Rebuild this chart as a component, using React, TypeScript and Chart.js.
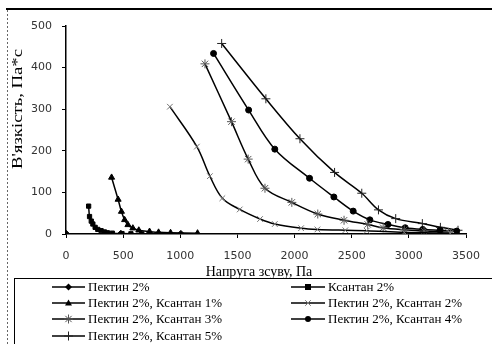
import React, { useEffect, useRef } from "react";
import { Chart, registerables } from "chart.js";

Chart.register(...registerables);

// Shear stress (Pa) / viscosity (Pa*s) per series
const pectinX = [0, 480, 1005];
const pectinY = [0.8, 0.5, 0.3];

const xanthanX = [198, 206, 221, 235, 255, 278, 307, 336, 362, 405, 490, 568, 663];
const xanthanY = [67, 42, 31, 24, 16, 11, 8, 5, 3, 2, 1, 0.5, 0.3];

const px1X = [399, 456, 485, 513, 542, 585, 637, 731, 810, 915, 1151];
const px1Y = [136, 83, 54, 34, 22, 14, 9, 6, 4, 3, 2];

const px2X = [909, 1145, 1259, 1368, 1520, 1698, 1827, 2057, 2200, 2444, 2631, 2960, 3362];
const px2Y = [306, 210, 139, 86, 59, 36, 24, 14, 11, 9, 8, 4, 2];

const px3X = [1216, 1448, 1594, 1741, 1976, 2203, 2433, 2640, 2775, 2960, 3133, 3348];
const px3Y = [409, 270, 180, 110, 76, 48, 33, 23, 15, 10, 7, 4];

const px4X = [1291, 1598, 1827, 2131, 2344, 2513, 2659, 2817, 2968, 3121, 3273, 3419];
const px4Y = [434, 298, 204, 134, 89, 55, 34, 23, 15, 11, 9, 7];

const px5X = [1362, 1749, 2047, 2350, 2588, 2734, 2885, 3118, 3276, 3430];
const px5Y = [458, 325, 229, 148, 98, 58, 37, 25, 16, 9];

const seriesLabels = [
  "Пектин 2%",
  "Ксантан 2%",
  "Пектин 2%, Ксантан 1%",
  "Пектин 2%, Ксантан 2%",
  "Пектин 2%, Ксантан 3%",
  "Пектин 2%, Ксантан 4%",
  "Пектин 2%, Ксантан 5%",
];

const xTitle = "Напруга зсуву, Па";
const yTitle = "В'язкість, Па*с";

const pts = (xs: number[], ys: number[]) => xs.map((x, i) => ({ x, y: ys[i] }));

const styles = [
  { pointStyle: "rectRot", r: 3.5, color: "#000" },
  { pointStyle: "rect", r: 3, color: "#000" },
  { pointStyle: "triangle", r: 3.5, color: "#000" },
  { pointStyle: "crossRot", r: 4, color: "#777" },
  { pointStyle: "star", r: 4.5, color: "#555" },
  { pointStyle: "circle", r: 3, color: "#000" },
  { pointStyle: "cross", r: 4.5, color: "#222" },
];

function drawMarker(ctx: CanvasRenderingContext2D, style: string, x: number, y: number, r: number, color: string) {
  ctx.save();
  ctx.fillStyle = color;
  ctx.strokeStyle = color;
  ctx.lineWidth = 1;
  ctx.beginPath();
  if (style === "rectRot") {
    ctx.moveTo(x, y - r); ctx.lineTo(x + r, y); ctx.lineTo(x, y + r); ctx.lineTo(x - r, y); ctx.closePath(); ctx.fill();
  } else if (style === "rect") {
    ctx.rect(x - r, y - r, 2 * r, 2 * r); ctx.fill();
  } else if (style === "triangle") {
    ctx.moveTo(x, y - r); ctx.lineTo(x + r, y + r * 0.7); ctx.lineTo(x - r, y + r * 0.7); ctx.closePath(); ctx.fill();
  } else if (style === "circle") {
    ctx.arc(x, y, r, 0, Math.PI * 2); ctx.fill();
  } else {
    const d = r * 0.7;
    if (style === "crossRot" || style === "star") {
      ctx.moveTo(x - d, y - d); ctx.lineTo(x + d, y + d); ctx.moveTo(x + d, y - d); ctx.lineTo(x - d, y + d);
    }
    if (style === "cross" || style === "star") {
      ctx.moveTo(x, y - r); ctx.lineTo(x, y + r); ctx.moveTo(x - r, y); ctx.lineTo(x + r, y);
    }
    ctx.stroke();
  }
  ctx.restore();
}

const decorPlugin = {
  id: "decor",
  afterDraw(chart: any) {
    const ctx: CanvasRenderingContext2D = chart.ctx;
    ctx.save();
    // frame
    ctx.strokeStyle = "#000";
    ctx.lineWidth = 2;
    ctx.beginPath();
    ctx.moveTo(6, 9); ctx.lineTo(492, 9); ctx.stroke();
    ctx.strokeStyle = "#666";
    ctx.lineWidth = 1;
    ctx.setLineDash([2, 2]);
    ctx.beginPath();
    ctx.moveTo(7.5, 10); ctx.lineTo(7.5, 344); ctx.stroke();
    ctx.setLineDash([]);

    // axis titles
    ctx.fillStyle = "#000";
    ctx.font = "14px 'Liberation Serif', 'Times New Roman', serif";
    ctx.textAlign = "center";
    ctx.textBaseline = "middle";
    ctx.fillText(xTitle, 259, 272);
    ctx.save();
    ctx.translate(18, 109);
    ctx.rotate(-Math.PI / 2);
    ctx.font = "15px 'Liberation Serif', 'Times New Roman', serif";
    const w = ctx.measureText(yTitle).width;
    ctx.scale(120 / w, 1);
    ctx.fillText(yTitle, 0, 0);
    ctx.restore();

    // legend box
    ctx.strokeStyle = "#000";
    ctx.lineWidth = 1;
    ctx.strokeRect(14.5, 278.5, 500, 80);
    const rows = [287, 303, 319, 336];
    const cols = [{ l: 52, r: 85, t: 88 }, { l: 291, r: 325, t: 328 }];
    ctx.font = "13px 'Liberation Serif', 'Times New Roman', serif";
    ctx.textAlign = "left";
    seriesLabels.forEach((lab, i) => {
      const row = rows[Math.floor(i / 2)];
      const c = cols[i % 2];
      ctx.strokeStyle = "#000";
      ctx.lineWidth = 1.5;
      ctx.beginPath();
      ctx.moveTo(c.l, row); ctx.lineTo(c.r, row); ctx.stroke();
      const s = styles[i];
      drawMarker(ctx, s.pointStyle, (c.l + c.r) / 2, row, s.r, s.color);
      ctx.fillStyle = "#000";
      ctx.fillText(lab, c.t, row + 1);
    });
    ctx.restore();
  },
};

export default function App() {
  const ref = useRef<HTMLCanvasElement>(null);
  useEffect(() => {
    const series = [
      pts(pectinX, pectinY),
      pts(xanthanX, xanthanY),
      pts(px1X, px1Y),
      pts(px2X, px2Y),
      pts(px3X, px3Y),
      pts(px4X, px4Y),
      pts(px5X, px5Y),
    ];
    const tickFont = { family: "'DejaVu Sans', Verdana, sans-serif", size: 11 };
    const chart = new Chart(ref.current!, {
      type: "scatter",
      data: {
        datasets: series.map((d, i) => ({
          label: seriesLabels[i],
          data: d,
          showLine: true,
          tension: 0.35,
          borderColor: "#000",
          borderWidth: 1.5,
          pointStyle: styles[i].pointStyle as any,
          pointRadius: styles[i].r,
          pointBackgroundColor: styles[i].color,
          pointBorderColor: styles[i].color,
          pointBorderWidth: 1,
        })),
      },
      options: {
        animation: false,
        responsive: false,
        devicePixelRatio: 1,
        layout: { padding: { left: 0, top: 26, right: 19, bottom: 80 } },
        plugins: { legend: { display: false }, tooltip: { enabled: false } },
        scales: {
          x: {
            type: "linear",
            min: 0,
            max: 3500,
            ticks: { stepSize: 500, color: "#333", font: tickFont, padding: 12, maxRotation: 0, callback: (v: any) => String(v) },
            grid: { drawOnChartArea: false, tickLength: 4, color: "#000" },
            border: { color: "#000", width: 1.5 },
            afterFit: (s: any) => { s.height = 30; },
          },
          y: {
            type: "linear",
            min: 0,
            max: 500,
            ticks: { stepSize: 100, color: "#333", font: tickFont, padding: 10, callback: (v: any) => String(v) },
            grid: { drawOnChartArea: false, tickLength: 4, color: "#000" },
            border: { color: "#000", width: 1.5 },
            afterFit: (s: any) => { s.width = 66; },
          },
        },
      },
      plugins: [decorPlugin],
    });
    return () => chart.destroy();
  }, []);
  return (
    <div style={{ position: "fixed", left: 0, top: 0, width: 492, height: 344, background: "#fff" }}>
      <canvas ref={ref} width={492} height={344} />
    </div>
  );
}
